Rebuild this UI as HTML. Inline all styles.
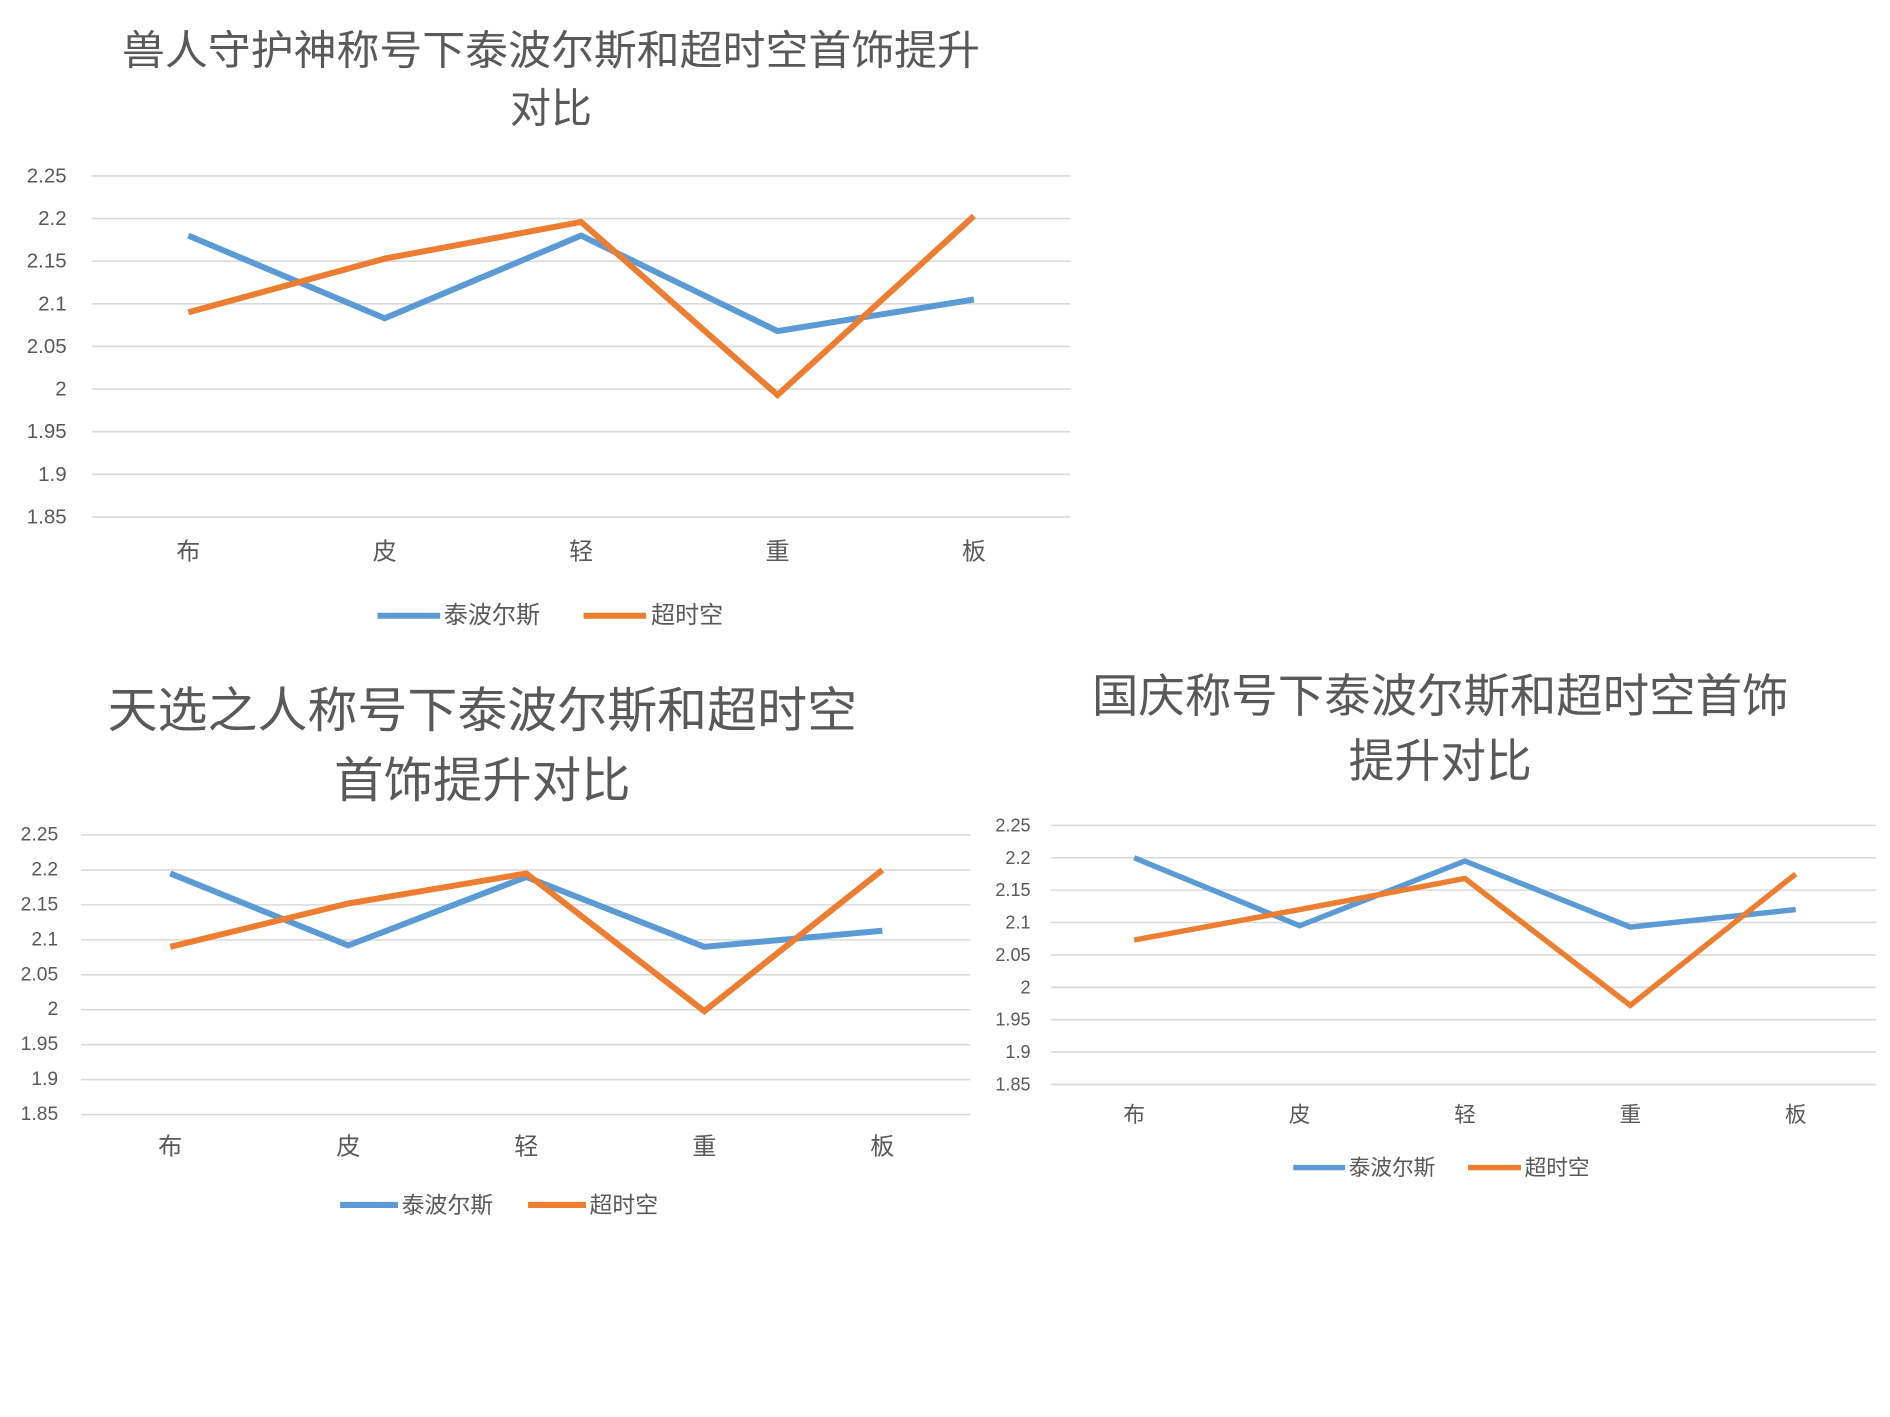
<!DOCTYPE html>
<html><head><meta charset="utf-8"><style>
html,body{margin:0;padding:0;background:#fff;}
svg{display:block;font-family:"Liberation Sans","Noto Sans CJK SC",sans-serif;}
</style></head><body>
<svg id="svg" width="1890" height="1417" viewBox="0 0 1568 1176" xmlns="http://www.w3.org/2000/svg"></svg>
<script>
const categories = ["布","皮","轻","重","板"];
const seriesNames = ["泰波尔斯","超时空"];
const yTicks = [2.25,2.2,2.15,2.1,2.05,2,1.95,1.9,1.85];
const tickLabels = ["2.25","2.2","2.15","2.1","2.05","2","1.95","1.9","1.85"];
const c1Blue = [2.18,2.083,2.18,2.068,2.105];
const c1Orange = [2.09,2.153,2.196,1.993,2.203];
const c2Blue = [2.195,2.092,2.19,2.09,2.113];
const c2Orange = [2.09,2.152,2.195,1.998,2.2];
const c3Blue = [2.2,2.095,2.195,2.093,2.12];
const c3Orange = [2.073,2.12,2.168,1.972,2.175];
const titles1 = ["兽人守护神称号下泰波尔斯和超时空首饰提升","对比"];
const titles2 = ["天选之人称号下泰波尔斯和超时空","首饰提升对比"];
const titles3 = ["国庆称号下泰波尔斯和超时空首饰","提升对比"];

const NS="http://www.w3.org/2000/svg";
const svg=document.getElementById('svg');
function mk(tag,attrs,parent){const e=document.createElementNS(NS,tag);for(const k in attrs)e.setAttribute(k,attrs[k]);(parent||svg).appendChild(e);return e;}

const charts=[
 {id:"chart-orc",titles:titles1,tx:457,ty:[42,90],tf:34,tw:[712,68],gx0:76,gx1:888,yTop:146,yBot:429,lx:55,lf:17,catx0:156,catx1:808,caty:458,cf:20,lgy:511,lg:[313,365,368,484,536,540],lgf:20,lw:5,blue:c1Blue,orange:c1Orange},
 {id:"chart-chosen",titles:titles2,tx:400,ty:[590,648],tf:40,tw:[622,246],gx0:67,gx1:805,yTop:693,yBot:925,lx:48,lf:16,catx0:141,catx1:732,caty:952,cf:20,lgy:1000,lg:[282,330,333,438,486,489],lgf:19,lw:5,blue:c2Blue,orange:c2Orange},
 {id:"chart-national",titles:titles3,tx:1195,ty:[578,632],tf:38,tw:[578,152],gx0:872,gx1:1557,yTop:685,yBot:900,lx:855,lf:15,catx0:941,catx1:1490,caty:925,cf:18,lgy:969,lg:[1073,1116,1119,1218,1262,1265],lgf:18,lw:4.5,blue:c3Blue,orange:c3Orange}
];

charts.forEach(c=>{
 const g=mk('g',{});
 
 
 const yMax=yTicks[0], yMin=yTicks[yTicks.length-1];
 const ys=v=>c.yTop+(yMax-v)/(yMax-yMin)*(c.yBot-c.yTop);
 const xs=i=>c.catx0+i*(c.catx1-c.catx0)/(categories.length-1);
 c.titles.forEach((t,i)=>{
  const e=mk('text',{x:c.tx,y:c.ty[i],'text-anchor':'middle','dominant-baseline':'central','font-size':c.tf,fill:'#595959',textLength:c.tw[i],lengthAdjust:'spacingAndGlyphs'},g);
  e.textContent=t;
  
  
 });
 yTicks.forEach((v,i)=>{
  const l=mk('line',{x1:c.gx0,x2:c.gx1,y1:ys(v),y2:ys(v),stroke:'#d9d9d9','stroke-width':1.3},g);
  
  
  const t=mk('text',{x:c.lx,y:ys(v),'text-anchor':'end','dominant-baseline':'central','font-size':c.lf,fill:'#595959'},g);
  t.textContent=tickLabels[i];
  
  
 });
 categories.forEach((cat,i)=>{
  const t=mk('text',{x:xs(i),y:c.caty,'text-anchor':'middle','dominant-baseline':'central','font-size':c.cf,fill:'#595959'},g);
  t.textContent=cat;
  
  
 });
 [[c.blue,'#5b9bd5','series-taiposi'],[c.orange,'#ed7d31','series-chaoshikong']].forEach(([arr,col,nm])=>{
  const p=mk('polyline',{points:arr.map((v,i)=>xs(i)+','+ys(v)).join(' '),fill:'none',stroke:col,'stroke-width':c.lw,'stroke-linejoin':'miter'},g);
  
  
 });
 const L=c.lg;
 [[L[0],L[1],L[2],'#5b9bd5',seriesNames[0]],[L[3],L[4],L[5],'#ed7d31',seriesNames[1]]].forEach(([a,b,tx,col,name])=>{
  const lg=mk('g',{},g);
  
  
  mk('line',{x1:a,x2:b,y1:c.lgy,y2:c.lgy,stroke:col,'stroke-width':c.lw},lg);
  const t=mk('text',{x:tx,y:c.lgy,'dominant-baseline':'central','font-size':c.lgf,fill:'#595959'},lg);
  t.textContent=name;
 });
});
</script>
</body></html>
